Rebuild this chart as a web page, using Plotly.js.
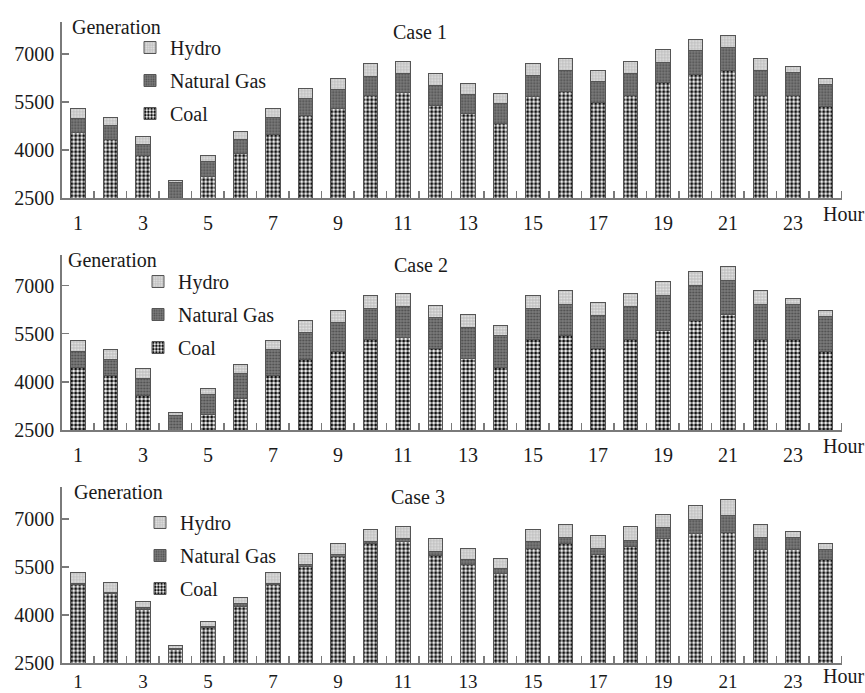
<!DOCTYPE html>
<html>
<head>
<meta charset="utf-8">
<script src="https://cdn.plot.ly/plotly-3.0.1.min.js"></script>
<style>html,body{margin:0;padding:0;background:#fff;}#chart{width:865px;height:693px;}</style>
</head>
<body>
<div id="chart"></div>
<script>
// Hours 1..24
const hours = [1,2,3,4,5,6,7,8,9,10,11,12,13,14,15,16,17,18,19,20,21,22,23,24];
const xTickVals = [1,3,5,7,9,11,13,15,17,19,21,23];
const xTickText = ['1','3','5','7','9','11','13','15','17','19','21','23'];
const yTickVals = [2500,4000,5500,7000];
const caseNames = ['Case 1','Case 2','Case 3'];

// Case 1 (generation by source)
const coal1  = [4560,4320,3820,2450,3180,3890,4500,5080,5310,5710,5780,5390,5130,4830,5680,5830,5480,5700,6100,6350,6480,5710,5700,5360];
const gas1   = [440,440,370,540,470,430,520,530,580,590,600,620,610,630,650,650,660,700,640,760,730,770,730,680];
const hydro1 = [310,260,240,70,180,250,290,320,340,390,390,380,350,310,360,360,340,370,400,330,370,360,190,180];

// Case 2
const coal2  = [4440,4210,3580,2450,2990,3480,4210,4690,4940,5330,5380,5030,4720,4440,5310,5430,5030,5310,5610,5920,6090,5310,5330,4950];
const gas2   = [510,480,530,500,620,790,790,860,910,940,980,960,980,1010,960,990,1040,1030,1070,1090,1080,1110,1090,1080];
const hydro2 = [350,310,290,85,180,270,290,370,370,410,400,390,390,310,410,420,390,410,460,420,430,410,180,190];

// Case 3
const coal3  = [4940,4670,4190,2930,3610,4270,4940,5510,5820,6230,6290,5850,5590,5300,6090,6230,5880,6130,6400,6540,6580,6050,6050,5720];
const gas3   = [55,50,45,40,35,80,55,55,55,60,85,130,130,160,190,190,210,200,340,430,530,370,370,310];
const hydro3 = [320,290,190,70,155,210,320,350,345,375,375,405,365,300,395,415,385,430,395,455,490,415,175,190];

const series = [
  {coal: coal1, gas: gas1, hydro: hydro1},
  {coal: coal2, gas: gas2, hydro: hydro2},
  {coal: coal3, gas: gas3, hydro: hydro3}
];

const FONT = 'Liberation Serif, Times New Roman, serif';
const AX = '#7a7a7a';
const W = 865, H = 693;
const px = v => v / W;
const py = v => 1 - v / H;

const styles = {
  coal:  {name: 'Coal', rank: 3, pattern: {shape: '.', fgcolor: '#111', bgcolor: '#ffffff', size: 4, solidity: 0.55, fillmode: 'replace'}},
  gas:   {name: 'Natural Gas', rank: 2, pattern: {shape: '.', fgcolor: '#4a4a4a', bgcolor: '#7c7c7c', size: 3, solidity: 0.35, fillmode: 'replace'}},
  hydro: {name: 'Hydro', rank: 1, pattern: {shape: '.', fgcolor: '#e6e6e6', bgcolor: '#c2c2c2', size: 3, solidity: 0.3, fillmode: 'replace'}}
};

// panel geometry in pixels
const panels = [
  {top: 21.7, bottom: 198.3, gen: [70, 27], title: [420, 32], hour: [843, 214], legend: [130, 28], stand: 6, tfs: 20},
  {top: 255, bottom: 430, gen: [66, 260], title: [421, 265], hour: [843, 446], legend: [138, 262], stand: 6, tfs: 20},
  {top: 486.7, bottom: 663.3, gen: [72, 492], title: [418, 497], hour: [843, 676], legend: [140, 503], stand: 0, tfs: 19}
];

const traces = [];
const layout = {
  width: W, height: H,
  margin: {l: 0, r: 0, t: 0, b: 0},
  paper_bgcolor: '#fff', plot_bgcolor: '#fff',
  barmode: 'stack',
  bargap: 0.55,
  font: {family: FONT, size: 20, color: '#1a1a1a'},
  annotations: []
};

panels.forEach((p, i) => {
  const n = i + 1;
  const xa = n === 1 ? 'x' : 'x' + n;
  const ya = n === 1 ? 'y' : 'y' + n;
  const lg = n === 1 ? 'legend' : 'legend' + n;
  ['coal', 'gas', 'hydro'].forEach(k => {
    traces.push({
      type: 'bar', x: hours, y: series[i][k], xaxis: xa, yaxis: ya,
      name: styles[k].name, legend: lg, legendgroup: lg + k, legendrank: styles[k].rank,
      marker: {pattern: styles[k].pattern, color: styles[k].pattern.bgcolor, line: {color: '#555', width: 1}},
      hoverinfo: 'skip'
    });
  });
  const xkey = n === 1 ? 'xaxis' : 'xaxis' + n;
  const ykey = n === 1 ? 'yaxis' : 'yaxis' + n;
  layout[xkey] = {
    domain: [px(61.7), px(841.7)], anchor: ya,
    range: [0.5, 24.5], tickmode: 'array', tickvals: xTickVals, ticktext: xTickText,
    ticks: '', showgrid: false, zeroline: false, showline: true, linecolor: AX, linewidth: 1.5,
    tickfont: {family: FONT, size: p.tfs, color: '#1a1a1a'}, ticklabelstandoff: p.stand,
    minor: {tickmode: 'array', tickvals: [1.5,2.5,3.5,4.5,5.5,6.5,7.5,8.5,9.5,10.5,11.5,12.5,13.5,14.5,15.5,16.5,17.5,18.5,19.5,20.5,21.5,22.5,23.5,24.5],
            ticks: 'inside', ticklen: 7, tickwidth: 1.5, tickcolor: AX, showgrid: false},
    fixedrange: true
  };
  layout[ykey] = {
    domain: [py(p.bottom), py(p.top)], anchor: xa,
    range: [2500, 2500 + 5500 * (p.bottom - p.top) / 176.6],
    tickmode: 'array', tickvals: yTickVals, ticktext: yTickVals.map(String),
    ticks: 'inside', ticklen: 7, tickwidth: 1.5, tickcolor: AX,
    showgrid: false, zeroline: false, showline: true, linecolor: AX, linewidth: 1.5,
    tickfont: {family: FONT, size: 20, color: '#1a1a1a'}, ticklabelstandoff: 2,
    fixedrange: true
  };
  layout[lg] = {
    x: px(p.legend[0]), y: py(p.legend[1]), xanchor: 'left', yanchor: 'top',
    traceorder: 'grouped', tracegroupgap: 4, itemwidth: 30,
    bgcolor: 'rgba(0,0,0,0)', borderwidth: 0,
    font: {family: FONT, size: 20, color: '#1a1a1a'}
  };
  layout.annotations.push(
    {xref: 'paper', yref: 'paper', x: px(p.gen[0]), y: py(p.gen[1]), xanchor: 'left', yanchor: 'middle', text: 'Generation', showarrow: false, font: {family: FONT, size: 20}},
    {xref: 'paper', yref: 'paper', x: px(p.title[0]), y: py(p.title[1]), xanchor: 'center', yanchor: 'middle', text: caseNames[i], showarrow: false, font: {family: FONT, size: 20}},
    {xref: 'paper', yref: 'paper', x: px(p.hour[0]), y: py(p.hour[1]), xanchor: 'center', yanchor: 'middle', text: 'Hour', showarrow: false, font: {family: FONT, size: 20}}
  );
});

Plotly.newPlot('chart', traces, layout, {displayModeBar: false, staticPlot: true});
</script>
</body>
</html>
